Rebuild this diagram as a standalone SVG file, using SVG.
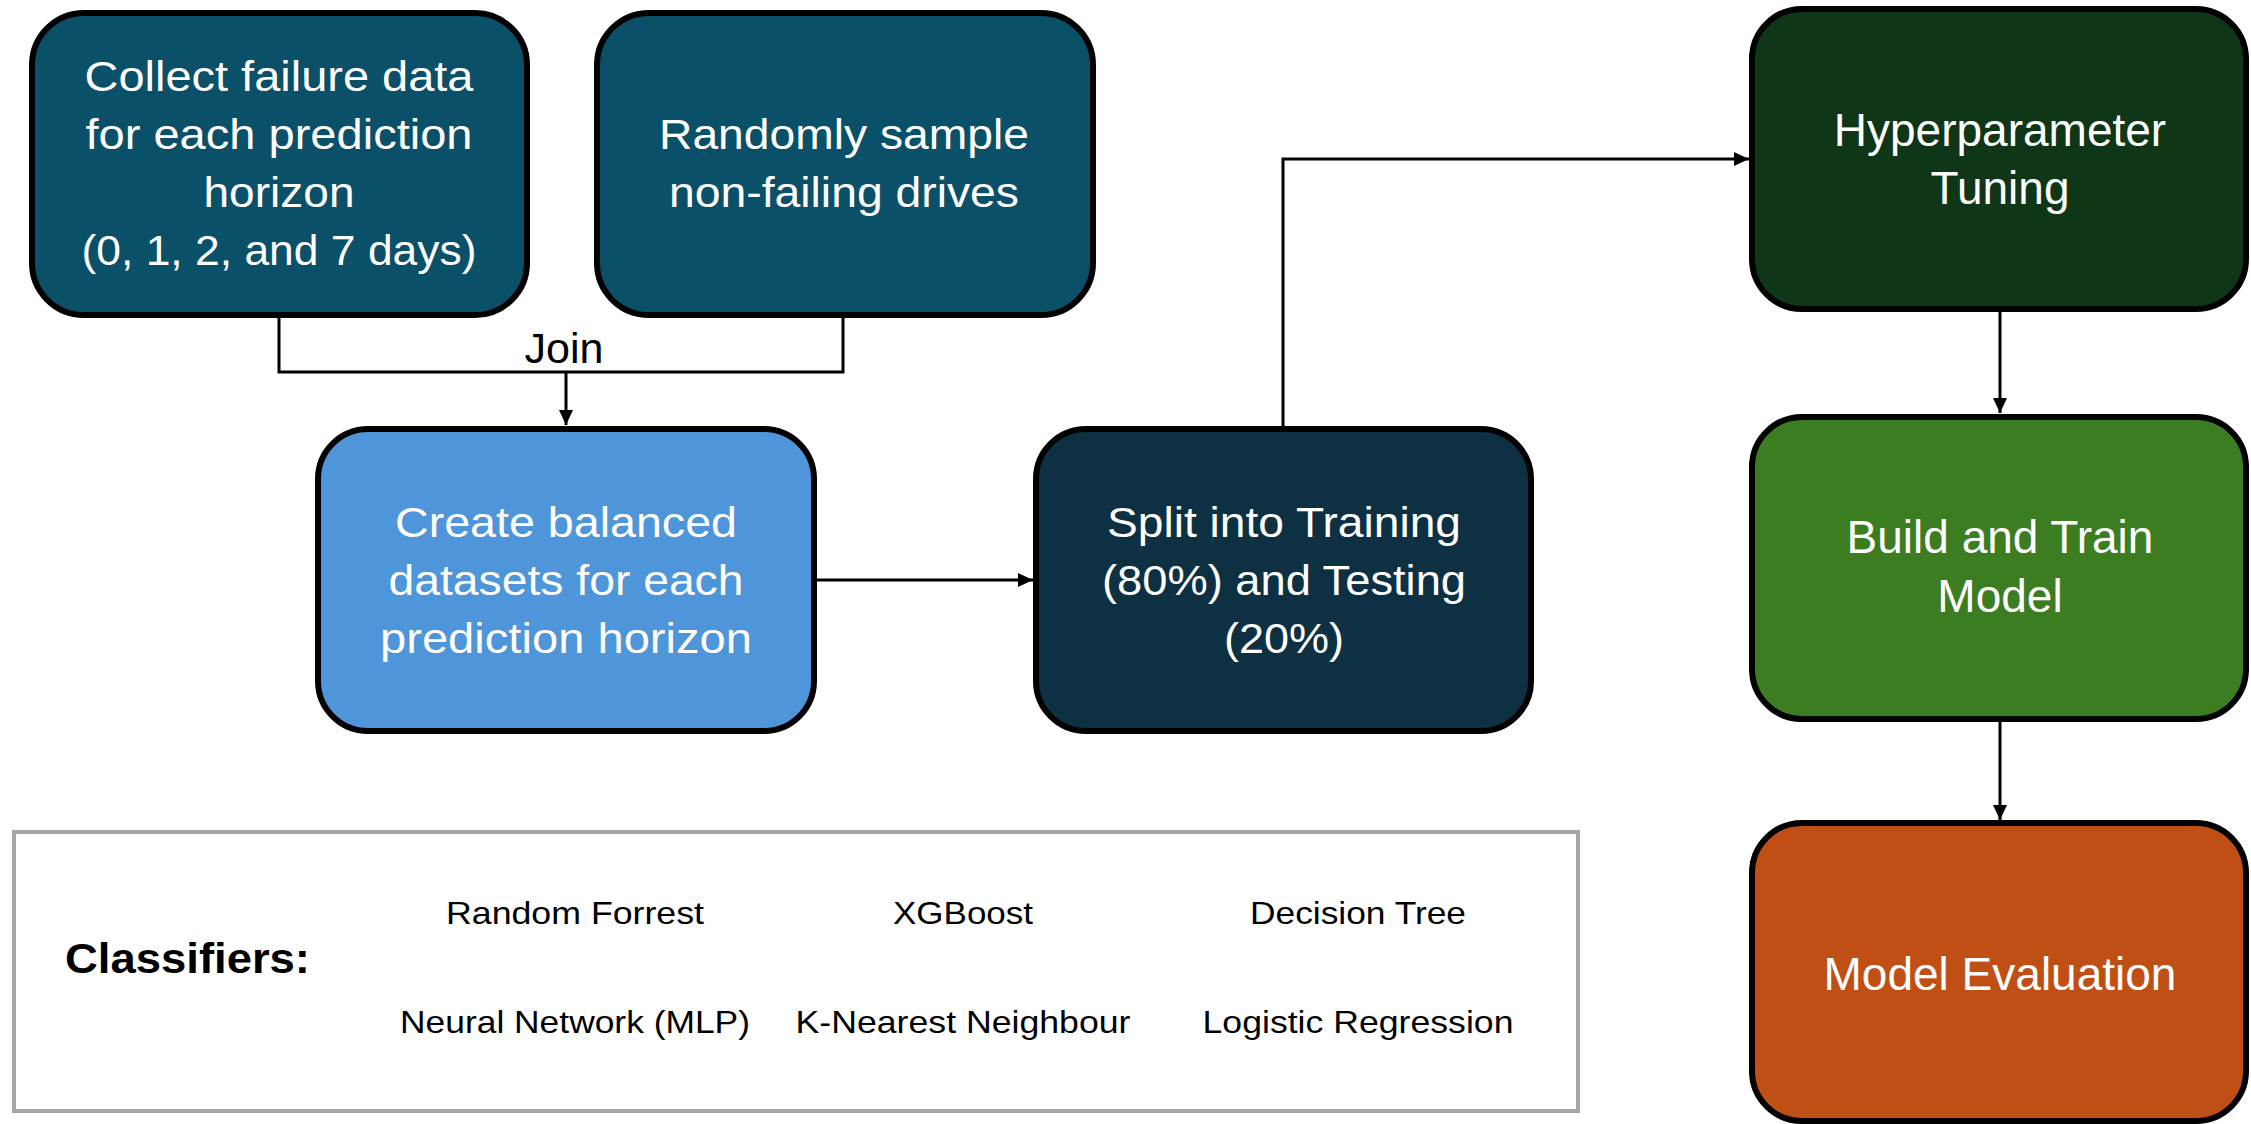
<svg xmlns="http://www.w3.org/2000/svg" width="2251" height="1124" viewBox="0 0 2251 1124">
<style>
.box{stroke:#000;stroke-width:6}
.nt{font-family:"Liberation Sans",Arial,sans-serif;font-size:42px;fill:#fff;text-anchor:middle}
.wt{font-family:"Liberation Sans",Arial,sans-serif;font-size:46px;fill:#fff;text-anchor:middle}
.ct{font-family:"Liberation Sans",Arial,sans-serif;font-size:32px;fill:#000;text-anchor:middle}
.conn{fill:none;stroke:#000;stroke-width:3}
</style>
<defs>
<marker id="ah" markerUnits="userSpaceOnUse" markerWidth="16" markerHeight="14" refX="15" refY="7" orient="auto">
<path d="M0,0 L15,7 L0,14 z" fill="#000"/>
</marker>
</defs>
<rect width="2251" height="1124" fill="#fff"/>
<g id="connectors">
<path class="conn" d="M279,316 V372 H843 V316"/>
<path class="conn" d="M566,372 V425" marker-end="url(#ah)"/>
<path class="conn" d="M815,580 H1033" marker-end="url(#ah)"/>
<path class="conn" d="M1283,428 V159 H1749" marker-end="url(#ah)"/>
<path class="conn" d="M2000,310 V413" marker-end="url(#ah)"/>
<path class="conn" d="M2000,720 V820" marker-end="url(#ah)"/>
<text x="564" y="363" font-family="Liberation Sans,Arial,sans-serif" font-size="42" text-anchor="middle" textLength="79" lengthAdjust="spacingAndGlyphs">Join</text>
</g>
<g id="node-collect">
<rect class="box" x="32" y="13" width="495" height="302" rx="52" fill="#0B5069"/>
<text class="nt" x="279" y="91" textLength="389" lengthAdjust="spacingAndGlyphs">Collect failure data</text>
<text class="nt" x="279" y="149" textLength="387" lengthAdjust="spacingAndGlyphs">for each prediction</text>
<text class="nt" x="279" y="207" textLength="151" lengthAdjust="spacingAndGlyphs">horizon</text>
<text class="nt" x="279" y="265" textLength="395" lengthAdjust="spacingAndGlyphs">(0, 1, 2, and 7 days)</text>
</g>
<g id="node-sample">
<rect class="box" x="597" y="13" width="496" height="302" rx="52" fill="#0B5069"/>
<text class="nt" x="844" y="149" textLength="370" lengthAdjust="spacingAndGlyphs">Randomly sample</text>
<text class="nt" x="844" y="207" textLength="350" lengthAdjust="spacingAndGlyphs">non-failing drives</text>
</g>
<g id="node-balanced">
<rect class="box" x="318" y="429" width="496" height="302" rx="50" fill="#4F95D9"/>
<text class="nt" x="566" y="537" textLength="342" lengthAdjust="spacingAndGlyphs">Create balanced</text>
<text class="nt" x="566" y="595" textLength="355" lengthAdjust="spacingAndGlyphs">datasets for each</text>
<text class="nt" x="566" y="653" textLength="372" lengthAdjust="spacingAndGlyphs">prediction horizon</text>
</g>
<g id="node-split">
<rect class="box" x="1036" y="429" width="495" height="302" rx="50" fill="#0D3042"/>
<text class="nt" x="1284" y="537" textLength="354" lengthAdjust="spacingAndGlyphs">Split into Training</text>
<text class="nt" x="1284" y="595" textLength="364" lengthAdjust="spacingAndGlyphs">(80%) and Testing</text>
<text class="nt" x="1284" y="653" textLength="120" lengthAdjust="spacingAndGlyphs">(20%)</text>
</g>
<g id="node-hyper">
<rect class="box" x="1752" y="9" width="494" height="300" rx="50" fill="#0F3616"/>
<text class="wt" x="2000" y="146">Hyperparameter</text>
<text class="wt" x="2000" y="204">Tuning</text>
</g>
<g id="node-build">
<rect class="box" x="1752" y="417" width="494" height="302" rx="50" fill="#3C7D22"/>
<text class="wt" x="2000" y="553">Build and Train</text>
<text class="wt" x="2000" y="612">Model</text>
</g>
<g id="node-eval">
<rect class="box" x="1752" y="823" width="494" height="298" rx="50" fill="#BF4F14"/>
<text class="wt" x="2000" y="990">Model Evaluation</text>
</g>
<g id="classifiers">
<rect x="14" y="832" width="1564" height="279" fill="#fff" stroke="#A6A6A6" stroke-width="4"/>
<text x="65" y="973" font-family="Liberation Sans,Arial,sans-serif" font-size="42" font-weight="bold" textLength="245" lengthAdjust="spacingAndGlyphs">Classifiers:</text>
<text class="ct" x="575" y="924" textLength="258" lengthAdjust="spacingAndGlyphs">Random Forrest</text>
<text class="ct" x="963" y="924" textLength="140" lengthAdjust="spacingAndGlyphs">XGBoost</text>
<text class="ct" x="1358" y="924" textLength="216" lengthAdjust="spacingAndGlyphs">Decision Tree</text>
<text class="ct" x="575" y="1033" textLength="350" lengthAdjust="spacingAndGlyphs">Neural Network (MLP)</text>
<text class="ct" x="963" y="1033" textLength="335" lengthAdjust="spacingAndGlyphs">K-Nearest Neighbour</text>
<text class="ct" x="1358" y="1033" textLength="311" lengthAdjust="spacingAndGlyphs">Logistic Regression</text>
</g>
</svg>
